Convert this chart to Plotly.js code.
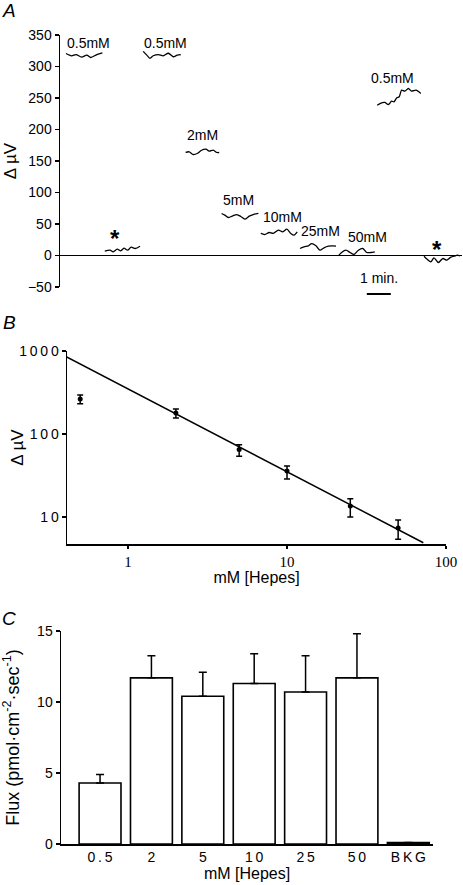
<!DOCTYPE html>
<html><head><meta charset="utf-8">
<script src="https://cdn.plot.ly/plotly-3.0.1.min.js"></script>
<style>html,body{margin:0;padding:0;background:#fff}#chart{width:463px;height:885px}</style>
</head><body><div id="chart"></div>
<script>
// ---------- Panel A: recording traces (time in s, signal in µV) ----------
const traceLabels = ['0.5mM', '*', '0.5mM', '2mM', '5mM', '10mM', '25mM', '50mM', '0.5mM', '*'];
const aTime1 = [15, 29, 40, 54, 67, 77, 92, 106];
const aVolt1 = [320.6, 317, 319, 315, 318, 314.3, 319, 321.7];
const aTime2 = [112, 125, 133, 143, 152, 160, 169, 178, 188, 200];
const aVolt2 = [6.8, 8.4, 5.8, 10, 7.4, 11.6, 8.4, 13.2, 11.1, 14.8];
const aTime3 = [208, 217, 225, 233, 246, 258, 271, 283, 293, 302];
const aVolt3 = [324, 318, 313, 317, 319, 317, 321, 315.5, 318, 319];
const aTime4 = [314, 323, 333, 343, 354, 365, 373, 383, 392, 398];
const aVolt4 = [163.5, 164.6, 160.3, 161.9, 167.1, 168.7, 165.6, 167.1, 163.5, 163.5];
const aTime5 = [404, 412, 421, 432, 442, 452, 462, 473, 483, 496];
const aVolt5 = [66.7, 64, 60.3, 63, 65, 62, 57.7, 62.4, 65, 66.7];
const aTime6 = [502, 512, 523, 533, 546, 557, 567, 577, 585, 593];
const aVolt6 = [35, 33.3, 36.5, 35, 40.2, 37.6, 41.8, 35, 32.3, 37.6];
const aTime7 = [600, 610, 621, 629, 640, 650, 660, 671, 682, 690];
const aVolt7 = [11.1, 13.8, 15.4, 19, 15.4, 8.4, 12.2, 14.8, 15.4, 14.8];
const aTime8 = [696, 704, 715, 725, 735, 746, 757, 767, 777, 787];
const aVolt8 = [-0.5, 4.8, 8.4, 4.8, 1.6, 8.4, 11.1, 4.8, 4.8, 5.9];
const aTime9 = [793, 804, 812, 821, 829, 835, 842, 848, 854, 862, 871, 879, 890, 902];
const aVolt9 = [238.6, 242.4, 242.9, 239.7, 244.9, 244, 250.3, 251.9, 262.4, 260.8, 265.1, 260.8, 262.4, 257.1];
const aTime10 = [910, 918, 927, 935, 946, 957, 967, 977, 988, 993, 1000];
const aVolt10 = [-1.1, -5.9, -10, -3.7, -11.1, -4.8, -7.4, -2.7, -0.5, 0.5, -0.5];
const scaleBarSeconds = 60;
const scaleBarStart = 767;
const aTickVals = [-50, 0, 50, 100, 150, 200, 250, 300, 350];

// ---------- Panel B: dose-response (log-log) ----------
const hepesB = [0.5, 2, 5, 10, 25, 50];
const deltaB = [265, 179, 65, 35.8, 13.6, 7.4];
const errUpB = [30, 21, 9, 5.5, 3, 1.8];
const errDownB = [33, 23, 11, 7, 3.6, 2];
const fitX = [0.41, 72];
const fitY = [850, 4.9];
const bYTicks = [10, 100, 1000];
const bXTicks = [1, 10, 100];

// ---------- Panel C: flux bars ----------
const hepesC = ['0.5', '2', '5', '10', '25', '50', 'BKG'];
const fluxC = [4.3, 11.7, 10.4, 11.3, 10.7, 11.7, 0.1];
const fluxErrC = [0.6, 1.55, 1.7, 2.1, 2.55, 3.1, 0];
const cYTicks = [0, 5, 10, 15];

// ---------- build ----------
const FONT = 'Liberation Sans, Arial, sans-serif';
const SERIF = 'Liberation Serif, Times New Roman, serif';
const spaced = s => String(s).split('').join('\u2009');

const aTimes = [aTime1, aTime2, aTime3, aTime4, aTime5, aTime6, aTime7, aTime8, aTime9, aTime10];
const aVolts = [aVolt1, aVolt2, aVolt3, aVolt4, aVolt5, aVolt6, aVolt7, aVolt8, aVolt9, aVolt10];

const data = [];
aTimes.forEach((t, i) => {
  data.push({x: t, y: aVolts[i], type: 'scatter', mode: 'lines', xaxis: 'x', yaxis: 'y',
    line: {color: '#000', width: 1.3, shape: 'spline', smoothing: 0.8},
    name: traceLabels[i], showlegend: false, hoverinfo: 'skip'});
});

data.push({x: fitX, y: fitY, type: 'scatter', mode: 'lines', xaxis: 'x2', yaxis: 'y2',
  line: {color: '#000', width: 1.5}, showlegend: false});
data.push({x: hepesB, y: deltaB, type: 'scatter', mode: 'markers', xaxis: 'x2', yaxis: 'y2',
  marker: {color: '#000', size: 5},
  error_y: {type: 'data', symmetric: false, array: errUpB, arrayminus: errDownB, color: '#000', thickness: 1.5, width: 3},
  showlegend: false});

data.push({x: hepesC, y: fluxC, type: 'bar', xaxis: 'x3', yaxis: 'y3',
  marker: {color: '#fff', line: {color: '#000', width: 1.6}},
  error_y: {type: 'data', symmetric: false, array: fluxErrC, arrayminus: fluxErrC.map(() => 0), color: '#000', thickness: 1.5, width: 4},
  showlegend: false});

// label placement style (pixel offsets from each trace's start / top)
const labelStyle = [
  {dx: 0, dy: 10, star: false}, {dx: 10, dy: 7.4, star: true}, {dx: 0, dy: 8.7, star: false},
  {dx: 0, dy: 14.7, star: false}, {dx: 0, dy: 13, star: false}, {dx: 1, dy: 11.7, star: false},
  {dx: 0, dy: 13, star: false}, {dx: 8.7, dy: 12, star: false}, {dx: -7.3, dy: 10, star: false},
  {dx: 13, dy: 5.4, star: true}
];
const annotations = traceLabels.map((lab, i) => {
  const st = labelStyle[i];
  return {
    x: aTimes[i][0], y: Math.max(...aVolts[i]), xref: 'x', yref: 'y',
    text: st.star ? '<b>' + lab + '</b>' : lab,
    showarrow: false, xanchor: st.star ? 'center' : 'left', yanchor: 'middle',
    xshift: st.star ? st.dx : st.dx - 1, yshift: st.dy,
    font: {family: FONT, size: st.star ? 24 : 14, color: '#000'}
  };
});
annotations.push({x: scaleBarStart + scaleBarSeconds / 2, y: 1 - 278 / 885, xref: 'x', yref: 'paper',
  text: '1 min.', showarrow: false, xanchor: 'center', yanchor: 'middle', font: {family: FONT, size: 14, color: '#000'}});
[['A', 10], ['B', 323], ['C', 618]].forEach(([l, py]) => {
  annotations.push({x: 9 / 463, y: 1 - py / 885, xref: 'paper', yref: 'paper', text: '<i>' + l + '</i>',
    showarrow: false, xanchor: 'center', yanchor: 'middle', font: {family: FONT, size: 19, color: '#000'}});
});

const ax = {showgrid: false, zeroline: false, linecolor: '#000', linewidth: 1.5, ticks: 'outside',
  ticklen: 4, tickwidth: 1.5, tickcolor: '#000', tickfont: {family: FONT, size: 14, color: '#000'}};

const layout = {
  width: 463, height: 885, margin: {l: 0, r: 0, t: 0, b: 0},
  paper_bgcolor: '#fff', plot_bgcolor: 'rgba(0,0,0,0)', showlegend: false,
  font: {family: FONT, color: '#000'},
  xaxis: {domain: [60 / 463, 462 / 463], anchor: 'y', range: [0, 1005], visible: true, showline: false,
    showticklabels: false, ticks: '', showgrid: false, zeroline: false},
  yaxis: Object.assign({}, ax, {domain: [1 - 287 / 885, 1 - 35 / 885], anchor: 'x', range: [-50, 350],
    tickmode: 'array', tickvals: aTickVals, showline: true, zeroline: true, zerolinecolor: '#000', zerolinewidth: 1.5,
    title: {text: 'Δ µV', font: {family: FONT, size: 17, color: '#000'}}}),
  xaxis2: Object.assign({}, ax, {domain: [67 / 463, 446 / 463], anchor: 'y2', type: 'log', range: [-0.384, 2.0],
    showline: true, tickmode: 'array', tickvals: bXTicks, ticktext: bXTicks.map(String), ticklen: 3,
    tickfont: {family: SERIF, size: 15, color: '#000'},
    title: {text: 'mM [Hepes]', font: {family: FONT, size: 16, color: '#000'}, standoff: 2}}),
  yaxis2: Object.assign({}, ax, {domain: [1 - 544 / 885, 1 - 351 / 885], anchor: 'x2', type: 'log', range: [0.675, 3.0],
    showline: true, tickmode: 'array', tickvals: bYTicks, ticktext: bYTicks.map(spaced),
    title: {text: 'Δ µV', font: {family: FONT, size: 17, color: '#000'}}}),
  xaxis3: Object.assign({}, ax, {domain: [61 / 463, 433 / 463], anchor: 'y3', type: 'category', range: [-0.76, 6.48],
    showline: true, ticks: '', tickmode: 'array', tickvals: hepesC, ticktext: hepesC.map(spaced),
    title: {text: 'mM [Hepes]', font: {family: FONT, size: 16, color: '#000'}, standoff: 2}}),
  yaxis3: Object.assign({}, ax, {domain: [1 - 844 / 885, 1 - 631 / 885], anchor: 'x3', range: [0, 15],
    showline: true, tickmode: 'array', tickvals: cYTicks,
    title: {text: 'Flux (pmol·cm<sup>-2</sup>·sec<sup>-1</sup>)', font: {family: FONT, size: 18, color: '#000'}}}),
  bargap: 0.185,
  shapes: [{type: 'line', xref: 'x', yref: 'paper', x0: scaleBarStart, x1: scaleBarStart + scaleBarSeconds,
    y0: 1 - 294 / 885, y1: 1 - 294 / 885, line: {color: '#000', width: 2}}],
  annotations: annotations
};

Plotly.newPlot('chart', data, layout, {staticPlot: true, displayModeBar: false});
</script>
</body></html>
